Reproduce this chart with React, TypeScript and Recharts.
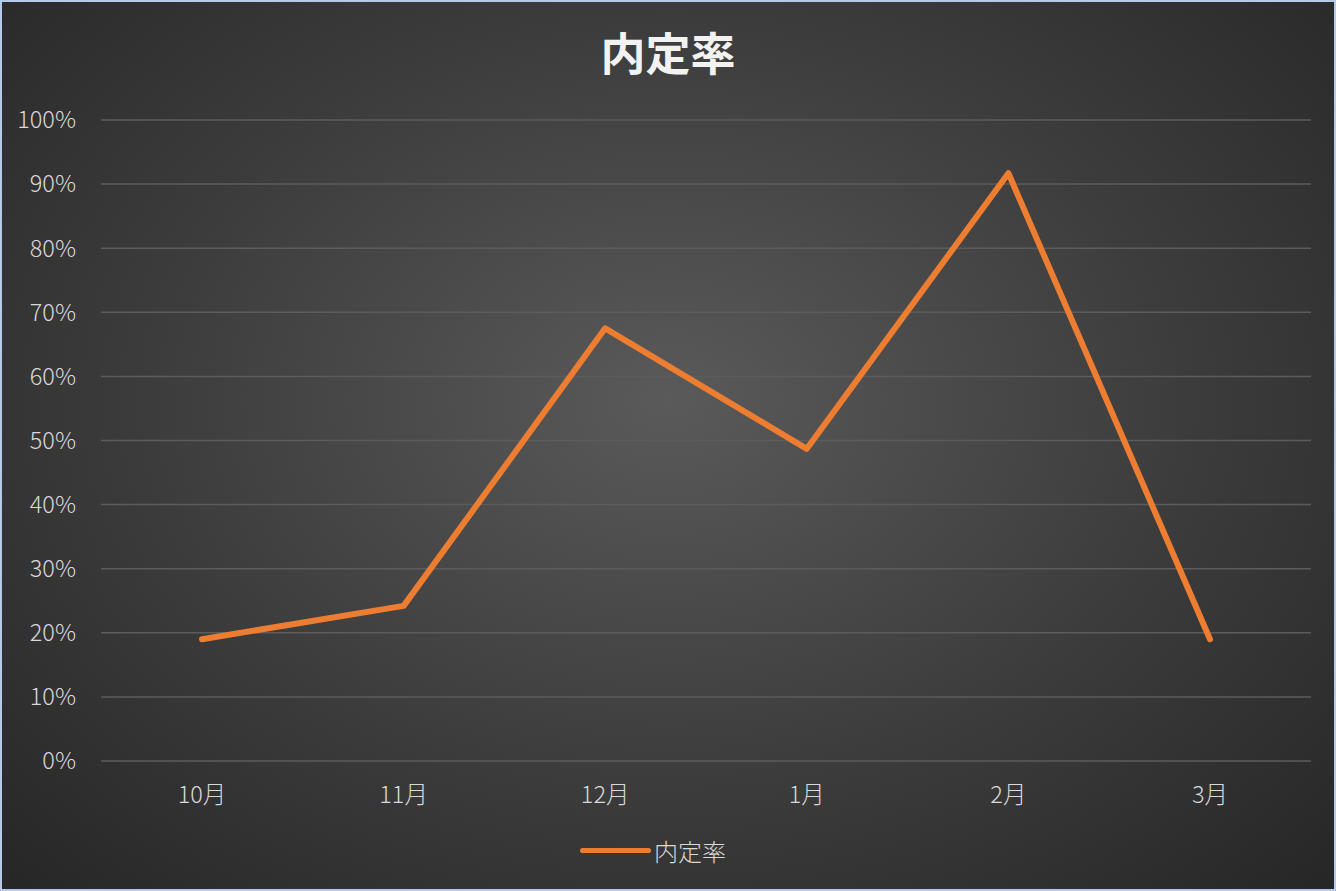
import { LineChart, Line, XAxis, YAxis, CartesianGrid, Legend } from 'recharts'

const months = ['10月', '11月', '12月', '1月', '2月', '3月']
const rates = [0.19, 0.242, 0.675, 0.487, 0.917, 0.19]
const yTicks = [0, 0.1, 0.2, 0.3, 0.4, 0.5, 0.6, 0.7, 0.8, 0.9, 1]
const seriesName = '内定率'

const data = months.map((m, i) => ({ month: m, rate: rates[i] }))

const FONT = '"Noto Sans CJK JP", "Noto Sans", sans-serif'
const ORANGE = '#ED7D31'

function LegendContent() {
  return (
    <div style={{ height: 40, display: 'flex', alignItems: 'center', justifyContent: 'center', fontFamily: FONT }}>
      <span style={{ display: 'inline-block', width: 71, height: 5, borderRadius: 3, background: ORANGE, marginRight: 3 }} />
      <span style={{ fontSize: 24, fontWeight: 300, color: '#d9d9d9' }}>{seriesName}</span>
    </div>
  )
}

export default function App() {
  return (
    <div style={{
      position: 'absolute', left: 0, top: 0, width: 1336, height: 891,
      background: 'radial-gradient(ellipse at 50% 45%, #5a5a5a 0%, #3c3c3c 55%, #262626 100%)',
      fontFamily: FONT,
    }}>
      <div style={{
        position: 'absolute', left: 0, right: 0, top: 24, textAlign: 'center',
        fontSize: 45, fontWeight: 700, color: '#f2f2f2', lineHeight: '56px',
      }}>
        {seriesName}
      </div>
      <div style={{ position: 'absolute', left: 0, top: 0 }}>
        <LineChart width={1336} height={891} data={data} margin={{ top: 120, right: 25, left: 0, bottom: 40 }}>
          <CartesianGrid vertical={false} stroke="#5c5c5c" strokeWidth={1.5} />
          <XAxis
            dataKey="month"
            axisLine={false}
            tickLine={false}
            height={50}
            padding={{ left: 101, right: 101 }}
            tickSize={6}
            tickMargin={19}
            tick={{ fontSize: 23.5, fontWeight: 300, fill: '#d9d9d9', fontFamily: FONT }}
          />
          <YAxis
            domain={[0, 1]}
            ticks={yTicks}
            width={101}
            axisLine={false}
            tickLine={false}
            tickSize={6}
            tickMargin={19}
            tickFormatter={(v: number) => `${Math.round(v * 100)}%`}
            tick={{ fontSize: 23.5, fontWeight: 300, fill: '#d9d9d9', fontFamily: FONT }}
          />
          <Legend
            verticalAlign="bottom"
            content={<LegendContent />}
            wrapperStyle={{ top: 830, left: -15, width: 1336 }}
          />
          <Line
            type="linear"
            dataKey="rate"
            name={seriesName}
            stroke={ORANGE}
            strokeWidth={6}
            strokeLinecap="round"
            strokeLinejoin="round"
            dot={false}
            activeDot={false}
            isAnimationActive={false}
          />
        </LineChart>
      </div>
      <div style={{
        position: 'absolute', left: 0, top: 0, width: 1336, height: 891,
        boxSizing: 'border-box', border: '2px solid #b7c9e8', pointerEvents: 'none',
      }} />
    </div>
  )
}
